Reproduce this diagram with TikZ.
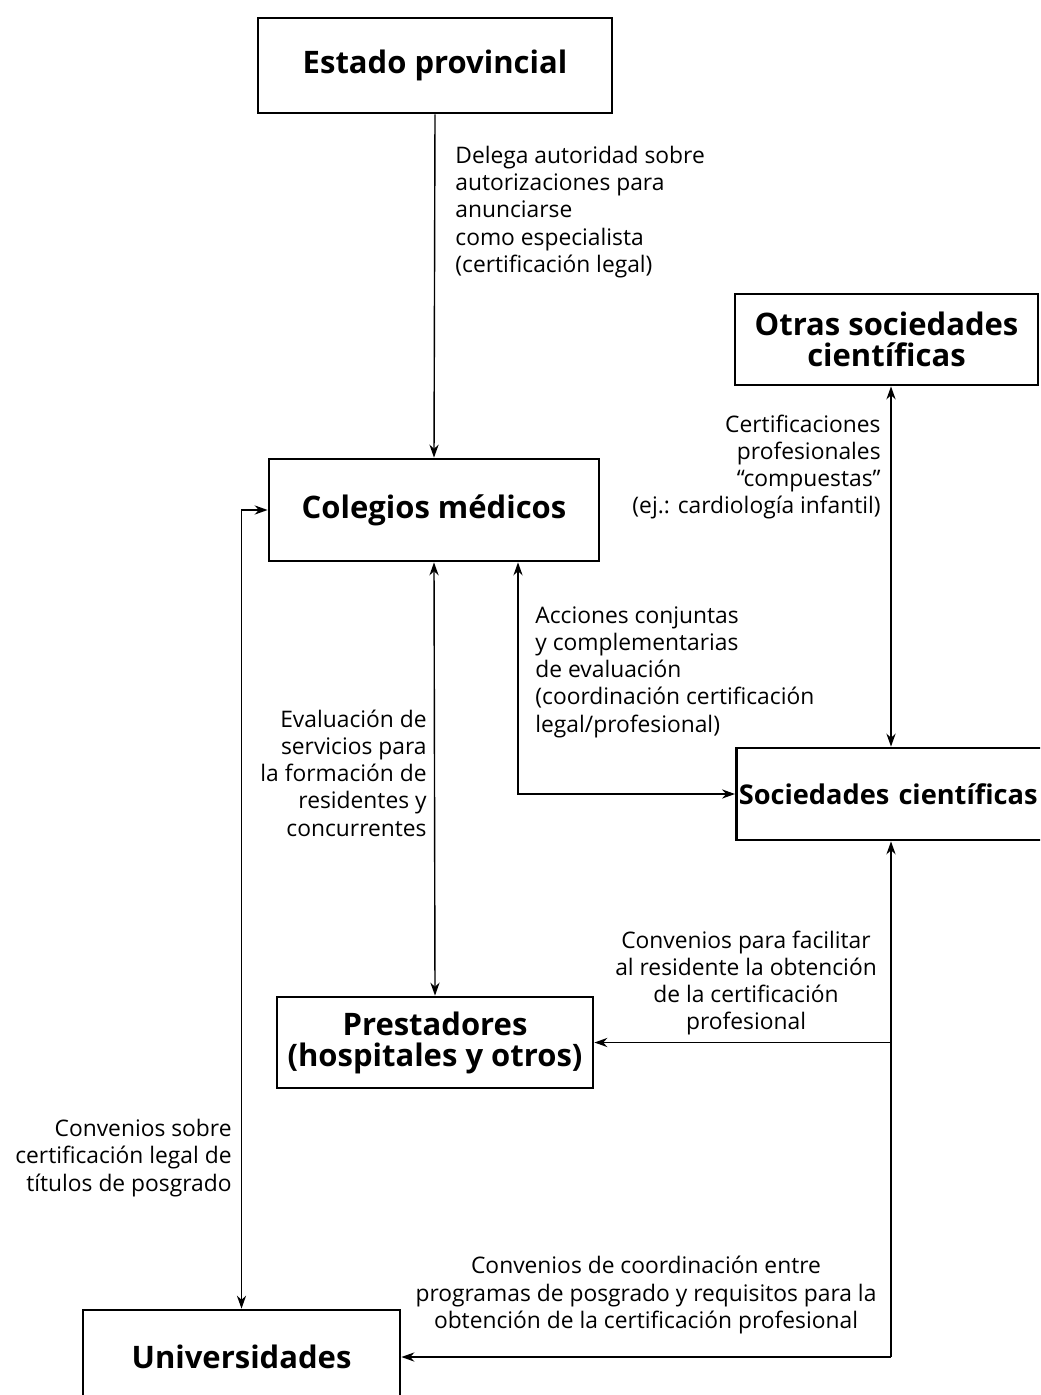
\documentclass[tikz,border=0pt]{standalone}
\usepackage{fontspec}
\setmainfont{Open Sans}
\usetikzlibrary{arrows.meta,positioning,calc}

\begin{document}
\begin{tikzpicture}[x=0.5pt,y=-0.5pt,
    box/.style={draw,line width=1.4pt,align=center,inner sep=0pt,
        font=\fontsize{15.5}{15.5}\selectfont\bfseries},
    lbl/.style={inner sep=0pt,font=\fontsize{11.4}{13.6}\selectfont},
    arr/.style={-{Stealth[length=6.5pt,width=4.6pt]},line width=0.7pt},
    arrs/.style={{Stealth[length=6.5pt,width=4.6pt]}-{Stealth[length=6.5pt,width=4.6pt]},line width=0.7pt}]
    \clip (0,0) rectangle (1040,1395);

    % Draw boxes
    \node[box,minimum width=177pt,minimum height=47.5pt] (estado) at (435,65.5) {Estado provincial};
    \node[box,minimum width=151.5pt,minimum height=45.5pt] (otras) at (886.5,339.5) {Otras sociedades\\científicas};
    \node[box,minimum width=165pt,minimum height=51pt] (colegios) at (434,510) {Colegios médicos};
    \node[box,anchor=west,inner xsep=1.2pt,minimum height=46pt,text width=176pt,align=left,
        font=\fontsize{13.6}{15.5}\selectfont\bfseries] (sociedades) at (735,794) {Sociedades científicas};
    \node[box,minimum width=158pt,minimum height=45.5pt] (prestadores) at (435,1042.5) {Prestadores\\(hospitales y otros)};
    \node[box,minimum width=158.5pt,minimum height=47pt] (universidades) at (241.5,1357) {Universidades};

    % Columns of the connectors
    \coordinate (colsoc) at (891,0);
    \coordinate (colacc) at (518,0);

    % Draw connectors
    \draw[arr] (estado.south) -- (colegios.north);
    \draw[arrs] (otras.south -| colsoc) -- (sociedades.north -| colsoc);
    \draw[arrs] (colegios.south) -- (prestadores.north);
    \draw[arrs] (colegios.south -| colacc) |- (sociedades.west);
    \draw[arrs] (colegios.west) -| (universidades.north);
    \draw[arr] (universidades.east -| colsoc) -- (sociedades.south -| colsoc);
    \draw[arr] (prestadores.east -| colsoc) -- (prestadores.east);
    \draw[arr] (universidades.east -| colsoc) -- (universidades.east);

    % Add labels
    \node[lbl,anchor=west,align=left] (delega) at (455,212) {Delega autoridad sobre\\autorizaciones para\\anunciarse\\como especialista\\(certificación legal)};
    \node[lbl,anchor=east,align=right] (compuestas) at (881,467) {Certificaciones\\profesionales\\“compuestas”\\(ej.: cardiología infantil)};
    \node[lbl,anchor=west,align=left] (acciones) at (535,672) {Acciones conjuntas\\y complementarias\\de evaluación\\(coordinación certificación\\legal/profesional)};
    \node[lbl,anchor=east,align=right] (evaluacion) at (427,773) {Evaluación de\\servicios para\\la formación de\\residentes y\\concurrentes};
    \node[lbl,align=center] (facilitar) at (746,983) {Convenios para facilitar\\al residente la obtención\\de la certificación\\profesional};
    \node[lbl,anchor=east,align=right] (titulos) at (232,1158) {Convenios sobre\\certificación legal de\\títulos de posgrado};
    \node[lbl,align=center] (coordinacion) at (646,1295) {Convenios de coordinación entre\\programas de posgrado y requisitos para la\\obtención de la certificación profesional};
\end{tikzpicture}
\end{document}
